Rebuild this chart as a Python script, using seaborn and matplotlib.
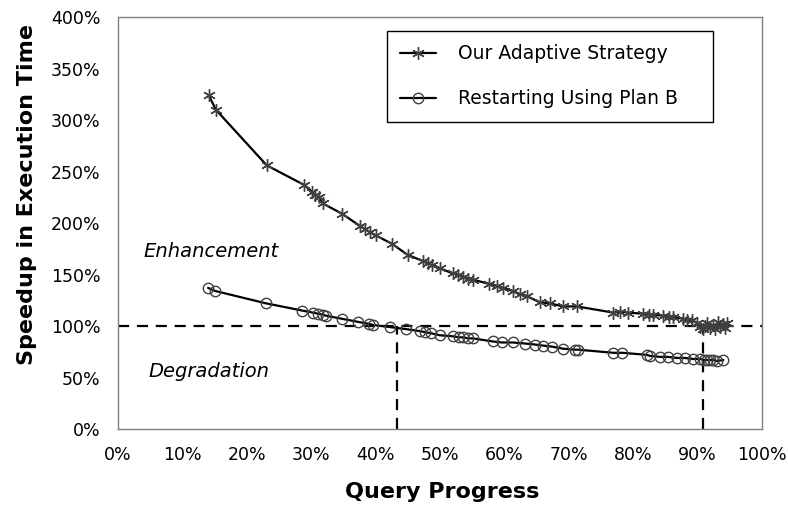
import matplotlib
matplotlib.use('Agg')
import matplotlib.pyplot as plt
import seaborn as sns

# Query progress (%) and speedup (%)
adaptive_x = [14.1, 15.2, 23.1, 28.9, 30.2, 30.6, 31.2, 31.8, 34.8, 37.6, 38.4, 39.1,
              40.0, 42.5, 45.0, 47.4, 48.2, 48.8, 50.0, 52.0, 52.8, 53.6, 54.4, 55.1,
              57.6, 58.9, 59.8, 61.3, 62.4, 63.5, 65.5, 67.1, 69.1, 71.3, 76.9, 78.0,
              79.2, 81.5, 82.4, 83.1, 84.6, 85.5, 86.2, 87.7, 88.3, 89.1, 89.9, 90.4,
              90.8, 91.2, 91.5, 92.0, 92.4, 92.7, 93.2, 93.5, 94.0, 94.3, 94.6]
adaptive_y = [324, 310, 256, 237, 230, 227, 225, 219, 209, 197, 194, 191,
              188, 180, 169, 163, 161, 159, 156, 151, 150, 148, 146, 145,
              141, 139, 137, 134, 131, 129, 123, 122, 119, 119, 113, 114,
              113, 112, 111, 111, 110, 109, 109, 107, 106, 106, 103, 99,
              97, 100, 103, 98, 101, 97, 104, 99, 102, 98, 103]

planb_x = [14.0, 15.1, 23.0, 28.6, 30.3, 31.0, 31.8, 32.3, 34.8, 37.3, 39.0, 39.6,
           42.2, 44.7, 46.9, 47.7, 48.6, 50.0, 52.0, 53.0, 53.6, 54.4, 55.1, 58.2,
           59.6, 61.3, 63.2, 64.8, 66.0, 67.4, 69.1, 71.0, 71.5, 76.9, 78.3, 82.1,
           82.6, 84.2, 85.4, 86.8, 88.0, 89.3, 90.4, 91.0, 91.5, 92.0, 92.4, 93.0, 94.0]
planb_y = [137, 134, 122, 115, 113, 112, 111, 110, 107, 104, 102, 101,
           99, 97, 95, 94, 93, 91, 90, 89, 89, 88, 88, 85,
           84, 84, 83, 82, 81, 80, 78, 77, 77, 74, 74, 72,
           71, 70, 70, 69, 69, 68, 68, 67, 67, 67, 67, 66, 67]

crossings = [43.3, 90.8]
baseline = 100
x_ticks = list(range(0, 101, 10))
y_ticks = list(range(0, 401, 50))

sns.set_style('white')
plt.rcParams['font.family'] = ['DejaVu Sans']
plt.rcParams['text.color'] = 'black'
plt.rcParams['axes.labelcolor'] = 'black'
plt.rcParams['xtick.color'] = 'black'
plt.rcParams['ytick.color'] = 'black'

fig = plt.figure(figsize=(7.88, 5.08), dpi=100)
ax = fig.add_axes([0.1497, 0.1555, 0.8173, 0.811])

sns.lineplot(x=adaptive_x, y=adaptive_y, ax=ax, estimator=None, sort=False,
             color='black', linewidth=1.6, marker=(6, 2, 0), markersize=9,
             markeredgecolor='#404040', markeredgewidth=1.0,
             label='Our Adaptive Strategy')
sns.lineplot(x=planb_x, y=planb_y, ax=ax, estimator=None, sort=False,
             color='black', linewidth=1.6, marker='o', markersize=7.5,
             markerfacecolor='none', markeredgecolor='#404040', markeredgewidth=1.0,
             label='Restarting Using Plan B')

# 100% reference line and the two crossing points
ax.plot([0, 100], [baseline, baseline], color='black', lw=1.6, ls=(0, (5, 3.5)), zorder=1)
for c in crossings:
    ax.plot([c, c], [0, baseline], color='black', lw=1.6, ls=(0, (5, 3.5)), zorder=1)

ax.text(3.9, 172, 'Enhancement', fontsize=14, style='italic', va='center', ha='left')
ax.text(4.7, 56, 'Degradation', fontsize=14, style='italic', va='center', ha='left')

ax.set_xlim(0, 100)
ax.set_ylim(0, 400)
ax.set_xticks(x_ticks)
ax.set_xticklabels([f'{t}%' for t in x_ticks], fontsize=12.5)
ax.set_yticks(y_ticks)
ax.set_yticklabels([f'{t}%' for t in y_ticks], fontsize=12.5)
ax.tick_params(axis='y', direction='inout', length=13, width=1, color='#606060', pad=6)
ax.tick_params(axis='x', direction='out', length=6, width=1, color='#606060', pad=6)

for s in ax.spines.values():
    s.set_color('#808080')
    s.set_linewidth(1.0)

ax.set_xlabel('Query Progress', fontsize=16, fontweight='bold')
ax.set_ylabel('Speedup in Execution Time', fontsize=16, fontweight='bold')
ax.xaxis.set_label_coords(0.504, -0.128)
ax.yaxis.set_label_coords(-0.126, 0.57)

leg = ax.legend(loc='upper left', bbox_to_anchor=(0.418, 0.966, 0.506, 0.0), mode='expand',
                fontsize=13.5, frameon=True, fancybox=False, edgecolor='black',
                framealpha=1, borderpad=0.7, labelspacing=1.4, handlelength=1.9,
                handletextpad=1.2, borderaxespad=0)
leg.get_frame().set_linewidth(1.0)

fig.savefig('out.png', dpi=100)
